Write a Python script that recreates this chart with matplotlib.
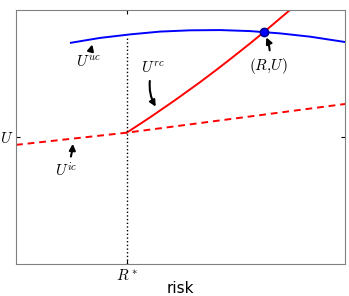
import matplotlib
matplotlib.use('Agg')
import matplotlib.pyplot as plt

plt.rcParams['mathtext.fontset'] = 'cm'

# blue curve U^uc
uc_x = [1.67, 2.55, 3.47, 4.38, 5.29, 6.20, 7.11, 8.02, 8.94, 10.0]
uc_y = [8.71, 8.90, 9.04, 9.15, 9.20, 9.21, 9.17, 9.08, 8.95, 8.74]

# solid red U^rc
rc_x = [3.365, 4.073, 4.833, 5.593, 6.049, 6.505, 7.112, 7.538, 8.328]
rc_y = [5.17, 5.772, 6.449, 7.157, 7.602, 8.059, 8.681, 9.134, 10.0]

# dashed red U^ic
ic_x = [0.0, 3.365, 10.0]
ic_y = [4.69, 5.17, 6.30]

r_star = 3.365
u_level = 5.0
pt_R, pt_U = 7.54, 9.13

fig = plt.figure(figsize=(3.49, 2.96), dpi=100)
ax = fig.add_axes([16/349, 32/296, 329/349, 254/296])

ax.plot(uc_x, uc_y, color='b', lw=1.4)
ax.plot(rc_x, rc_y, color='r', lw=1.4)
ax.plot(ic_x, ic_y, color='r', lw=1.4, ls=(0, (3.5, 2.5)))
ax.plot([r_star, r_star], [0, 8.95], color='k', lw=1, ls=':')
ax.plot([pt_R], [pt_U], 'o', color='b', mec='navy', ms=6, zorder=5)

arr = dict(arrowstyle='-|>', lw=1.5, color='k', mutation_scale=9)
ax.annotate(r'$U^{uc}$', xy=(2.34, 8.75), xytext=(2.19, 7.99),
            ha='center', va='center', fontsize=11,
            arrowprops=dict(arr, connectionstyle='arc3,rad=0'))
ax.annotate(r'$U^{rc}$', xy=(4.29, 6.10), xytext=(4.16, 7.72),
            ha='center', va='center', fontsize=11,
            arrowprops=dict(arr, connectionstyle='arc3,rad=0.25'))
ax.annotate(r'$(R{,}U)$', xy=(7.57, 9.02), xytext=(7.66, 7.80),
            ha='center', va='center', fontsize=11,
            arrowprops=dict(arr, connectionstyle='arc3,rad=0.2'))
ax.annotate(r'$U^{ic}$', xy=(1.73, 4.84), xytext=(1.52, 3.66),
            ha='center', va='center', fontsize=11,
            arrowprops=dict(arr, connectionstyle='arc3,rad=0.1'))

ax.set_xlim(0, 10)
ax.set_ylim(0, 10)
ax.set_xticks([r_star])
ax.set_xticklabels([r'$R^*$'], fontsize=11)
ax.set_yticks([u_level])
ax.set_yticklabels([r'$U$'], fontsize=11)
ax.tick_params(direction='in', length=3, top=True, right=True)
ax.tick_params(axis='x', pad=3)
ax.tick_params(axis='y', pad=1.5)
for s in ax.spines.values():
    s.set_color('0.5')
ax.set_xlabel('risk', fontsize=11, labelpad=-1.5)

fig.savefig('out.png', dpi=100)
